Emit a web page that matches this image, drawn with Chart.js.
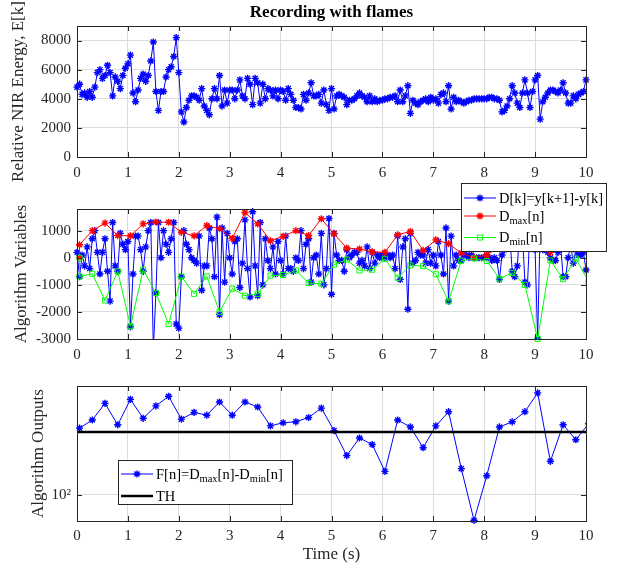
<!DOCTYPE html>
<html>
<head>
<meta charset="utf-8">
<title>Recording with flames</title>
<script src="https://cdn.jsdelivr.net/npm/chart.js@4.4.0/dist/chart.umd.min.js"></script>
<style>
  html, body { margin: 0; padding: 0; background: #fff; }
  #wrap { position: relative; width: 618px; height: 572px; }
  #wrap canvas { position: absolute; left: 0; top: 0; }
</style>
</head>
<body>
<div id="wrap">
  <canvas id="energyChart" width="618" height="572"></canvas>
  <canvas id="variablesChart" width="618" height="572"></canvas>
  <canvas id="outputsChart" width="618" height="572"></canvas>
</div>
<script>
// ---- data (20 Hz frames, 10 s) ----
const SAMPLE_STEP = 0.05; // s between NIR frames

// E[k], relative NIR energy
const energy = [
  4800, 5000, 4300, 4400, 4100, 4500, 4100, 4800, 5800, 6000,
  5400, 5600, 6300, 5800, 4200, 5500, 5200, 4700, 5600, 6100,
  6400, 7000, 4400, 3800, 4600, 5400, 5700, 5200, 5600, 6600,
  7900, 4500, 3200, 4500, 4500, 5500, 6000, 6200, 6900, 8200,
  5800, 3100, 2400, 3400, 3900, 4200, 4200, 4100, 3900, 4700,
  3500, 3200, 2900, 4000, 4700, 4000, 5600, 3500, 4600, 3700,
  4600, 4600, 4000, 4600, 5300, 4200, 4000, 5400, 5000, 3600,
  5400, 5100, 3700, 5000, 4000, 4700, 4600, 4200, 4600, 4000,
  4600, 4500, 3900, 4700, 4300, 3900, 3400, 3400, 3300, 4300,
  3900, 4400, 5100, 4200, 4200, 4300, 3700, 4600, 3600, 3200,
  4700, 3300, 4200, 4300, 4200, 4100, 3600, 3900, 3900, 4000,
  4200, 4400, 4200, 4100, 3800, 4200, 3800, 4000, 3800, 3900,
  3900, 4000, 4000, 4100, 4100, 4200, 3800, 4600, 3800, 4200,
  4900, 3000, 3900, 3700, 3600, 3800, 3900, 4000, 3800, 4100,
  3900, 4000, 3700, 4300, 4400, 3800, 4900, 3300, 4100, 3800,
  3900, 3800, 3700, 3800, 3900, 3900, 4000, 4000, 4000, 4000,
  4000, 4000, 4100, 4100, 4000, 4000, 3900, 3100, 3200, 3500,
  4000, 4900, 4400, 3700, 3400, 4400, 5300, 4400, 3400, 4500,
  5300, 5600, 2600, 3800, 4100, 4400, 4600, 4600, 4500, 4400,
  4600, 5100, 4400, 3700, 3700, 4200, 4000, 4300, 4400, 4500,
  5300
];

// D[k] = y[k+1] - y[k]
const diffs = [
  200, -700, 100, -300, 400, -400, 700, 1000, 200, -600,
  200, 700, -500, -1600, 1300, -300, -500, 900, 500, 300,
  600, -2550, -600, 800, 800, 300, -500, 400, 1000, 1300,
  -3400, -1300, 1300, 0, 1000, 500, 200, 700, 1300, -2450,
  -2600, -700, 1000, 500, 300, 0, -100, -200, 800, -1200,
  -300, -300, 1100, 700, -700, 1500, -2100, 1100, -900, 900,
  0, -600, 600, 700, -1100, -200, 1400, -400, -1450, 1700,
  -300, -1400, 1300, -1000, 700, -100, -400, 400, -600, 600,
  -100, -600, 800, -400, -400, -500, 0, -100, 1000, -400,
  500, 700, -900, 0, 100, -600, 900, -1000, -400, 1450,
  -1350, 900, 100, -100, -100, -500, 300, 0, 100, 200,
  200, -200, -100, -300, 400, -400, 200, -200, 100, 0,
  100, 0, 100, 0, 100, -400, 800, -800, 400, 700,
  -1900, 900, -200, -100, 200, 100, 100, -200, 300, -200,
  100, -300, 600, 100, -600, 1100, -1600, 800, -300, 100,
  -100, -100, 100, 100, 0, 100, 0, 0, 0, 0,
  0, 100, 0, -100, 0, -100, -800, 100, 300, 500,
  900, -500, -700, -300, 1000, 900, -900, -1000, 1100, 800,
  300, -3000, 1200, 300, 300, 200, 0, -100, -100, 200,
  500, -700, -700, 0, 500, -200, 300, 100, 100, 200,
  -450
];

// analysis frames, n
const frameTime = [
  0.05, 0.3, 0.55, 0.8, 1.05, 1.3, 1.55, 1.8, 2.05, 2.3,
  2.55, 2.8, 3.05, 3.3, 3.55, 3.8, 4.05, 4.3, 4.55, 4.8,
  5.05, 5.3, 5.55, 5.8, 6.05, 6.3, 6.55, 6.8, 7.05, 7.3,
  7.55, 7.8, 8.05, 8.3, 8.55, 8.8, 9.05, 9.3, 9.55, 9.8,
  10.05
];
// the extrema start from 0 at the first frame, then jump
const extremaTime = [0.05].concat(frameTime);
const dMax = [
  0, 480, 1000, 1280, 820, 810, 1250, 1320, 1310, 940, 810,
  1190, 1070, 720, 1670, 1250, 630, 790, 1000, 820, 1440,
  880, 360, 320, 220, 200, 850, 970, 270, 660, 520,
  170, 10, 100, 420, 900, 1100, 1200, 200, 570, 700,
  650
];
const dMin = [
  0, -690, -590, -1580, -500, -2530, -440, -1300, -2450, -690, -1330,
  -690, -2000, -1140, -1400, -1330, -660, -640, -470, -930, -960,
  -250, -70, -470, -440, -40, -740, -280, -310, -610, -1610,
  -110, -25, -120, -770, -560, -1000, -3000, -100, -790, -30,
  -880
];
// F[n] = Dmax[n] - Dmin[n]
const flameOut = [
  1150, 1550, 2850, 1300, 3300, 1650, 2600, 3700, 1600, 2050,
  1850, 3000, 1850, 3000, 2500, 1250, 1400, 1450, 1700, 2400,
  1050, 420, 800, 630, 235, 1550, 1200, 560, 1250, 2100,
  260, 39, 200, 1200, 1450, 2100, 4200, 340, 1300, 750,
  1350
];
const thTime = [0, 10];
const thValue = [1000, 1000];

// tick positions
const timeTicks = [0, 1, 2, 3, 4, 5, 6, 7, 8, 9, 10];
const energyTicks = [0, 2000, 4000, 6000, 8000];
const variableTicks = [-3000, -2000, -1000, 0, 1000];
const outputTicks = [100];

// ---- look ----
const SERIF = '"Liberation Serif", "Times New Roman", serif';
const AXIS_GRAY = '#262626';
const GRID_GRAY = '#dcdcdc';
const BLUE = '#0000ff', RED = '#ff0000', GREEN = '#00ff00';
const H = Chart.helpers;

const pts = (xs, ys) => ys.map((v, i) => ({ x: xs[i], y: v }));
const energyTime = energy.map((_, k) => k * SAMPLE_STEP);
const diffTime = diffs.map((_, k) => k * SAMPLE_STEP);
const fixTicks = list => s => { s.ticks = list.map(v => ({ value: v })); };

const starLine = (color) => ({
  borderColor: color, backgroundColor: color, borderWidth: 1,
  pointStyle: 'star', pointRadius: 3.6, pointBorderWidth: 1.4,
  pointBorderColor: color, tension: 0
});

function timeAxis(height, pad, withTitle) {
  return {
    type: 'linear', min: 0, max: 10,
    afterFit: s => { s.height = height; },
    afterBuildTicks: fixTicks(timeTicks),
    ticks: {
      padding: pad, color: AXIS_GRAY, autoSkip: false, maxRotation: 0,
      font: { family: SERIF, size: 15 }, callback: v => String(v)
    },
    grid: { color: GRID_GRAY, drawTicks: false },
    border: { display: false },
    title: {
      display: withTitle, text: 'Time (s)', color: AXIS_GRAY,
      font: { family: SERIF, size: 17 }, padding: { top: 0, bottom: 4 }
    }
  };
}

function valueAxis(extra, tickList, title, titlePad) {
  return Object.assign({
    afterFit: s => { s.width = 77; },
    afterBuildTicks: fixTicks(tickList),
    ticks: {
      padding: 6, color: AXIS_GRAY, autoSkip: false,
      font: { family: SERIF, size: 15 }, callback: v => String(v)
    },
    grid: { color: GRID_GRAY, drawTicks: false },
    border: { display: false },
    title: {
      display: true, text: title, color: AXIS_GRAY,
      font: { family: SERIF, size: 17 }, padding: { top: titlePad, bottom: 0 }
    }
  }, extra);
}

// box round the axes with inward ticks on all four sides
const axesFrame = {
  id: 'axesFrame',
  afterDatasetsDraw(chart) {
    const { ctx, chartArea: a, scales } = chart;
    ctx.save();
    ctx.strokeStyle = AXIS_GRAY;
    ctx.lineWidth = 1;
    ctx.beginPath();
    scales.x.ticks.forEach(t => {
      const px = Math.round(scales.x.getPixelForValue(t.value)) + 0.5;
      ctx.moveTo(px, a.bottom); ctx.lineTo(px, a.bottom - 5);
      ctx.moveTo(px, a.top); ctx.lineTo(px, a.top + 5);
    });
    scales.y.ticks.forEach(t => {
      const py = Math.round(scales.y.getPixelForValue(t.value)) + 0.5;
      ctx.moveTo(a.left, py); ctx.lineTo(a.left + 5, py);
      ctx.moveTo(a.right, py); ctx.lineTo(a.right - 5, py);
    });
    ctx.stroke();
    ctx.strokeRect(Math.round(a.left) + 0.5, Math.round(a.top) + 0.5,
      Math.round(a.right - a.left), Math.round(a.bottom - a.top));
    ctx.restore();
  }
};

// text with subscripts, parts: 'plain' or {sub: 'max'}
function drawRich(ctx, parts, x, yMid, size) {
  const base = yMid + size * 0.33;
  let cx = x;
  ctx.textBaseline = 'alphabetic';
  ctx.textAlign = 'left';
  parts.forEach(p => {
    const isSub = typeof p !== 'string';
    const txt = isSub ? p.sub : p;
    ctx.font = (isSub ? size * 0.72 : size) + 'px ' + SERIF;
    ctx.fillText(txt, cx, isSub ? base + size * 0.22 : base);
    cx += ctx.measureText(txt).width;
  });
}

function boxLegend(box, rows) {
  return {
    id: 'boxLegend',
    afterDraw(chart) {
      const ctx = chart.ctx;
      ctx.save();
      ctx.fillStyle = '#fff';
      ctx.fillRect(box.x, box.y, box.w, box.h);
      ctx.strokeStyle = AXIS_GRAY;
      ctx.lineWidth = 1;
      ctx.strokeRect(box.x + 0.5, box.y + 0.5, box.w, box.h);
      rows.forEach(r => {
        const x0 = box.x + 3, x1 = box.x + 35;
        ctx.strokeStyle = r.color;
        ctx.lineWidth = r.width || 1;
        ctx.beginPath();
        ctx.moveTo(x0, r.y); ctx.lineTo(x1, r.y);
        ctx.stroke();
        if (r.marker) {
          ctx.lineWidth = r.marker === 'star' ? 1.4 : 1;
          ctx.fillStyle = 'rgba(0,0,0,0)';
          H.drawPoint(ctx, { pointStyle: r.marker, radius: 3.6, borderWidth: ctx.lineWidth, rotation: 0 }, (x0 + x1) / 2, r.y);
        }
        ctx.fillStyle = '#000';
        drawRich(ctx, r.parts, x1 + 3, r.y, 14.5);
      });
      ctx.restore();
    }
  };
}

const plotTitle = {
  id: 'plotTitle',
  afterDraw(chart) {
    const ctx = chart.ctx;
    ctx.save();
    ctx.fillStyle = '#000';
    ctx.font = 'bold 17px ' + SERIF;
    ctx.textAlign = 'center';
    ctx.textBaseline = 'middle';
    ctx.fillText('Recording with flames', (chart.chartArea.left + chart.chartArea.right) / 2, 13);
    ctx.restore();
  }
};

const common = {
  responsive: false, animation: false, devicePixelRatio: 1, events: [],
  plugins: { legend: { display: false }, tooltip: { enabled: false } }
};

// ---- top: energy ----
new Chart(document.getElementById('energyChart'), {
  type: 'line',
  data: {
    datasets: [Object.assign({ data: pts(energyTime, energy), clip: 6 }, starLine(BLUE))]
  },
  options: Object.assign({}, common, {
    layout: { padding: { left: 0, top: 26, right: 32, bottom: 385 } },
    scales: {
      x: timeAxis(30, 7, false),
      y: valueAxis({ type: 'linear', min: 0, max: 9000 }, energyTicks, 'Relative NIR Energy, E[k]', 8)
    }
  }),
  plugins: [axesFrame, plotTitle]
});

// ---- middle: algorithm variables ----
new Chart(document.getElementById('variablesChart'), {
  type: 'line',
  data: {
    datasets: [
      Object.assign({ data: pts(diffTime, diffs), order: 3,
        clip: { left: 6, top: 6, right: 6, bottom: 0 } }, starLine(BLUE)),
      Object.assign({ data: pts(extremaTime, dMax), order: 2,
        clip: { left: 6, top: 6, right: 0, bottom: 6 } }, starLine(RED)),
      {
        data: pts(extremaTime, dMin), order: 1,
        clip: { left: 6, top: 6, right: 0, bottom: 6 },
        borderColor: GREEN, borderWidth: 1, tension: 0,
        pointStyle: 'rect', pointRadius: 3.6, pointBorderWidth: 1,
        pointBorderColor: GREEN, pointBackgroundColor: 'rgba(0,0,0,0)'
      }
    ]
  },
  options: Object.assign({}, common, {
    layout: { padding: { left: 0, top: 209, right: 32, bottom: 203 } },
    scales: {
      x: timeAxis(30, 7, false),
      y: valueAxis({ type: 'linear', min: -3000, max: 1800 }, variableTicks, 'Algorithm Variables', 11)
    }
  }),
  plugins: [axesFrame, boxLegend({ x: 461, y: 183, w: 145, h: 68 }, [
    { y: 198, color: BLUE, marker: 'star', parts: ['D[k]=y[k+1]-y[k]'] },
    { y: 216, color: RED, marker: 'star', parts: ['D', { sub: 'max' }, '[n]'] },
    { y: 237.5, color: GREEN, marker: 'rect', parts: ['D', { sub: 'min' }, '[n]'] }
  ])]
});

// ---- bottom: algorithm outputs ----
const outY = valueAxis({ type: 'logarithmic', min: 38, max: 5400 }, outputTicks, 'Algorithm Outputs', 28);
outY.ticks.callback = v => (v === 100 ? '10\u00b2' : '');
new Chart(document.getElementById('outputsChart'), {
  type: 'line',
  data: {
    datasets: [
      Object.assign({ data: pts(frameTime, flameOut), order: 2,
        clip: { left: 6, top: 6, right: 0, bottom: 6 } }, starLine(BLUE)),
      {
        data: pts(thTime, thValue), order: 1,
        borderColor: '#000', borderWidth: 2.5, pointRadius: 0
      }
    ]
  },
  options: Object.assign({}, common, {
    layout: { padding: { left: 0, top: 386, right: 32, bottom: 3 } },
    scales: { x: timeAxis(48, 6, true), y: outY }
  }),
  plugins: [axesFrame, boxLegend({ x: 118, y: 460, w: 174, h: 44 }, [
    { y: 474, color: BLUE, marker: 'star', parts: ['F[n]=D', { sub: 'max' }, '[n]-D', { sub: 'min' }, '[n]'] },
    { y: 496, color: '#000', width: 2.5, parts: ['TH'] }
  ])]
});
</script>
</body>
</html>
